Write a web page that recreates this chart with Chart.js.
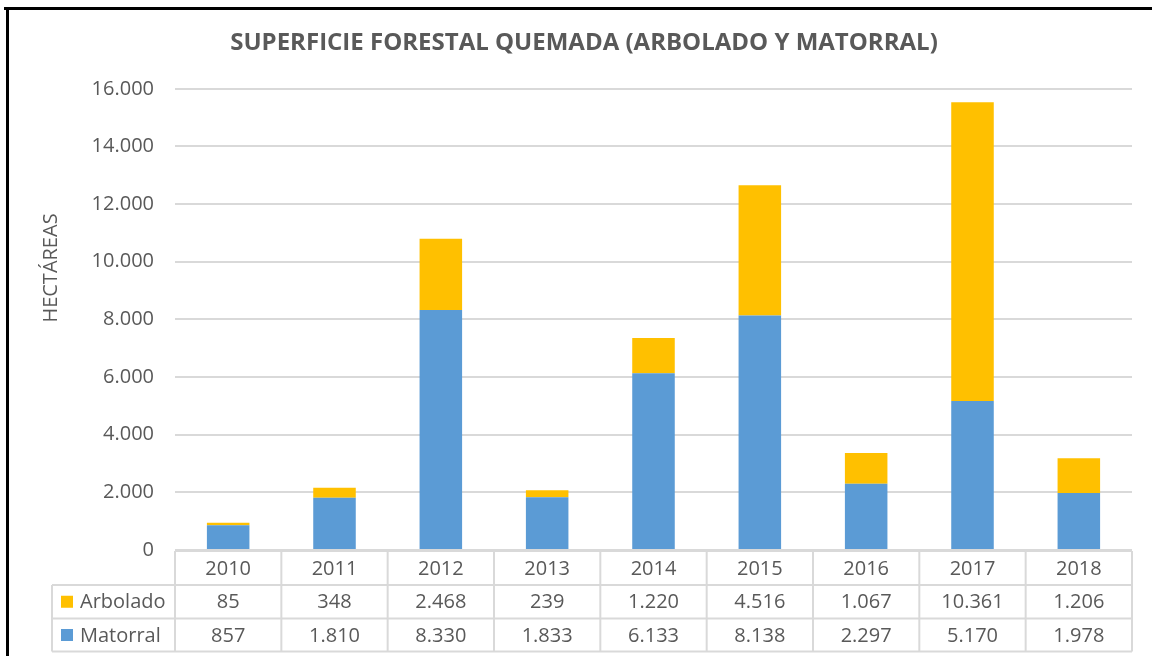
<!DOCTYPE html>
<html><head><meta charset="utf-8">
<script src="https://cdn.jsdelivr.net/npm/chart.js@4"></script>
<style>html,body{margin:0;padding:0;background:#fff}#wrap{width:1152px;height:656px;position:relative}</style>
</head><body><div id="wrap"><canvas id="c" width="1152" height="656"></canvas></div>
<script>
const years = ['2010','2011','2012','2013','2014','2015','2016','2017','2018'];
const arbolado = [85, 348, 2468, 239, 1220, 4516, 1067, 10361, 1206];
const matorral = [857, 1810, 8330, 1833, 6133, 8138, 2297, 5170, 1978];
const seriesNames = ['Arbolado', 'Matorral'];
const yMin = 0, yMax = 16000, yStep = 2000;
const chartTitle = 'SUPERFICIE FORESTAL QUEMADA (ARBOLADO Y MATORRAL)';
const yTitle = 'HECTÁREAS';

const COL_ARB = '#FFC000', COL_MAT = '#5B9BD5', TXT = '#595959', GRID = '#d9d9d9';
const FONT = '"Open Sans", "DejaVu Sans", sans-serif';
const fmt = v => new Intl.NumberFormat('de-DE').format(v);

const framePlugin = {
  id: 'frame',
  beforeDraw(chart) {
    const ctx = chart.ctx;
    ctx.save();
    ctx.fillStyle = '#fff';
    ctx.fillRect(0, 0, chart.width, chart.height);
    ctx.fillStyle = '#000';
    ctx.fillRect(4, 7, chart.width - 4, 3);
    ctx.fillRect(6, 7, 3, chart.height - 7);
    ctx.restore();
  }
};

const tablePlugin = {
  id: 'dataTable',
  afterDraw(chart) {
    const ctx = chart.ctx, xs = chart.scales.x, area = chart.chartArea;
    const n = chart.data.labels.length;
    const cw = (area.right - area.left) / n;
    const top = area.bottom + 1, r1 = top + 34, r2 = r1 + 33.5, r3 = r2 + 33;
    const legLeft = 52;
    ctx.save();
    ctx.strokeStyle = GRID; ctx.lineWidth = 2;
    const line = (a, b, c, d) => { ctx.beginPath(); ctx.moveTo(a, b); ctx.lineTo(c, d); ctx.stroke(); };
    line(area.left, top, area.right, top);
    line(legLeft, r1, area.right, r1);
    line(legLeft, r2, area.right, r2);
    line(legLeft, r3, area.right, r3);
    line(legLeft, r1, legLeft, r3);
    for (let i = 0; i <= n; i++) {
      const xb = i < n ? xs.getPixelForValue(i) - cw / 2 : xs.getPixelForValue(n - 1) + cw / 2;
      line(xb, top, xb, r3);
    }
    ctx.fillStyle = TXT;
    ctx.font = '20px ' + FONT;
    ctx.textAlign = 'center'; ctx.textBaseline = 'middle';
    const rows = [chart.data.datasets[1], chart.data.datasets[0]];
    for (let i = 0; i < n; i++) {
      const cx = xs.getPixelForValue(i);
      ctx.fillText(chart.data.labels[i], cx, (top + r1) / 2 + 1);
      ctx.fillText(fmt(rows[0].data[i]), cx, (r1 + r2) / 2 + 1);
      ctx.fillText(fmt(rows[1].data[i]), cx, (r2 + r3) / 2 + 1);
    }
    ctx.textAlign = 'left';
    [[rows[0], (r1 + r2) / 2], [rows[1], (r2 + r3) / 2]].forEach(([ds, cy]) => {
      ctx.fillStyle = ds.backgroundColor;
      ctx.fillRect(61, cy - 6, 12, 12);
      ctx.fillStyle = TXT;
      ctx.fillText(ds.label, 80, cy + 1);
    });
    // y axis title
    ctx.translate(51.5, 268);
    ctx.rotate(-Math.PI / 2);
    ctx.textAlign = 'center';
    ctx.fillText(yTitle, 0, 0);
    ctx.restore();
  }
};

new Chart(document.getElementById('c'), {
  type: 'bar',
  data: {
    labels: years,
    datasets: [
      { label: seriesNames[1], data: matorral, backgroundColor: COL_MAT },
      { label: seriesNames[0], data: arbolado, backgroundColor: COL_ARB }
    ]
  },
  options: {
    responsive: false,
    animation: false,
    layout: { padding: { left: 36, right: 20, top: 0, bottom: 106 } },
    datasets: { bar: { barPercentage: 0.4, categoryPercentage: 1.0 } },
    plugins: {
      legend: { display: false },
      tooltip: { enabled: false },
      title: {
        display: true, text: chartTitle, color: TXT,
        font: { family: FONT, size: 24, weight: 'bold' },
        padding: { top: 29, bottom: 31 }
      }
    },
    scales: {
      x: { stacked: true, display: false },
      y: {
        stacked: true, min: yMin, max: yMax,
        ticks: { stepSize: yStep, padding: 21, color: TXT, font: { family: FONT, size: 20 }, callback: v => fmt(v) },
        grid: { color: GRID, lineWidth: 2, drawTicks: false },
        border: { display: false },
        afterFit(s) { s.width = 139; }
      }
    }
  },
  plugins: [framePlugin, tablePlugin]
});
</script>
</body></html>
